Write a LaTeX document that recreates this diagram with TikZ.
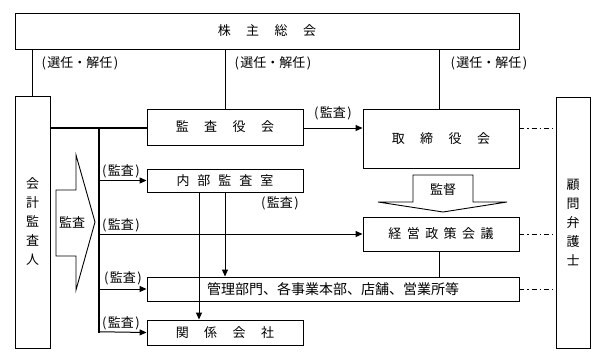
\documentclass[tikz,border=0pt]{standalone}
\usepackage{fontspec}
\newfontfamily\jp{Noto Sans CJK JP}
\usetikzlibrary{arrows.meta}
\begin{document}
\begin{tikzpicture}[x=1pt,y=-1pt,
  box/.style={draw, line width=0.9pt, inner sep=0pt, font=\jp\fontsize{13}{13}\selectfont},
  vbox/.style={box, align=center, font=\jp\fontsize{13}{19}\selectfont},
  line/.style={line width=1pt},
  bus/.style={line width=1.5pt},
  arr/.style={line width=1pt, -{Triangle[length=7pt,width=6pt]}},
  dd/.style={line width=0.9pt, dash pattern=on 5pt off 3pt on 1.2pt off 3pt},
  lbl/.style={inner sep=0pt, font=\jp\fontsize{13}{13}\selectfont},
  hollow/.style={draw, line width=0.9pt, fill=white}]
\useasboundingbox (0,0) rectangle (603,362);
\def\gp{\hspace{15.5pt}}
\def\lp{(\kern1.5pt}
\def\rp{\kern1.5pt)}
% boxes
\node[box, minimum width=504pt, minimum height=36pt] (kabu) at (267,31) {株\gp 主\gp 総\gp 会};
\node[vbox, minimum width=35pt, minimum height=252pt] (kaikei) at (32.5,222) {会\\計\\監\\査\\人};
\node[vbox, minimum width=34pt, minimum height=251pt] (komon) at (573,222.5) {顧\\問\\弁\\護\\士};
\node[box, minimum width=156pt, minimum height=36pt] (kansayaku) at (225,127) {監\gp 査\gp 役\gp 会};
\node[box, minimum width=156pt, minimum height=59pt] (torishimari) at (441,138.5) {取\gp 締\gp 役\gp 会};
\node[box, minimum width=156pt, minimum height=23pt] (naibu) at (225,180.5) {内\hspace{8pt}部\hspace{8pt}監\hspace{8pt}査\hspace{8pt}室};
\node[box, minimum width=156pt, minimum height=34pt] (keiei) at (441,234) {経\hspace{5.5pt}営\hspace{5.5pt}政\hspace{5.5pt}策\hspace{5.5pt}会\hspace{5.5pt}議};
\node[box, minimum width=372pt, minimum height=24pt, font=\jp\fontsize{14}{14}\selectfont] (kanri) at (333,289) {管理部門、各事業本部、店舗、営業所等};
\node[box, minimum width=156pt, minimum height=25pt] (kankei) at (225,332.5) {関\gp 係\gp 会\gp 社};
% hollow arrows
\draw[hollow] (56,190) -- (76,190) -- (76,155) -- (95,222) -- (76,290) -- (76,256) -- (56,256) -- cycle;
\node[lbl] (kansaL) at (72,222) {監査};
\draw[hollow] (413,175) -- (473,175) -- (473,202) -- (507,202) -- (443,212) -- (378,202) -- (413,202) -- cycle;
\node[lbl] (kantoku) at (443,190) {監督};
% connectors from shareholders
\draw[line] (kabu.south -| kaikei.north) -- (kaikei.north);
\draw[line] (kabu.south -| kansayaku.north) -- (kansayaku.north);
\draw[line] ([xshift=-2pt]kabu.south -| torishimari.north) -- ([xshift=-2pt]torishimari.north);
% bus
\coordinate (j) at (99,128);
\draw[bus] (kaikei.east |- j) -- (j -| kansayaku.west);
\draw[bus] (j) -- (j |- kankei.west);
\draw[arr] ([yshift=0.75pt]j |- kankei.west) -- (kankei.west);
\draw[arr] (j |- naibu.west) -- (naibu.west);
\draw[arr] (j |- keiei.west) -- (keiei.west);
\draw[arr] (j |- kanri.west) -- (kanri.west);
% audit board to directors
\draw[arr] (kansayaku.east |- j) -- (torishimari.west |- j);
% internal audit
\draw[arr] ([xshift=-26pt]naibu.south) -- ([xshift=-26pt]naibu.south |- kankei.north);
\draw[arr] (naibu.south) -- (naibu.south |- kanri.north);
% management policy to departments
\draw[line] ([xshift=-2pt]keiei.south) -- ([xshift=-2pt]keiei.south |- kanri.north);
% dash-dot to lawyer
\draw[dd] (torishimari.east |- j) -- (komon.west |- j);
\draw[dd] (keiei.east) -- (keiei.east -| komon.west);
\draw[dd] (kanri.east) -- (kanri.east -| komon.west);
% labels
\node[lbl] (l1) at (80,63) {\lp 選任・解任\rp};
\node[lbl] (l2) at (273,63) {\lp 選任・解任\rp};
\node[lbl] (l3) at (489,63) {\lp 選任・解任\rp};
\node[lbl] (l4) at (333,113) {\lp 監査\rp};
\node[lbl] (l5) at (121,171) {\lp 監査\rp};
\node[lbl] (l6) at (280,203) {\lp 監査\rp};
\node[lbl] (l7) at (121,225) {\lp 監査\rp};
\node[lbl] (l8) at (123,278) {\lp 監査\rp};
\node[lbl] (l9) at (121,323) {\lp 監査\rp};
\end{tikzpicture}
\end{document}
